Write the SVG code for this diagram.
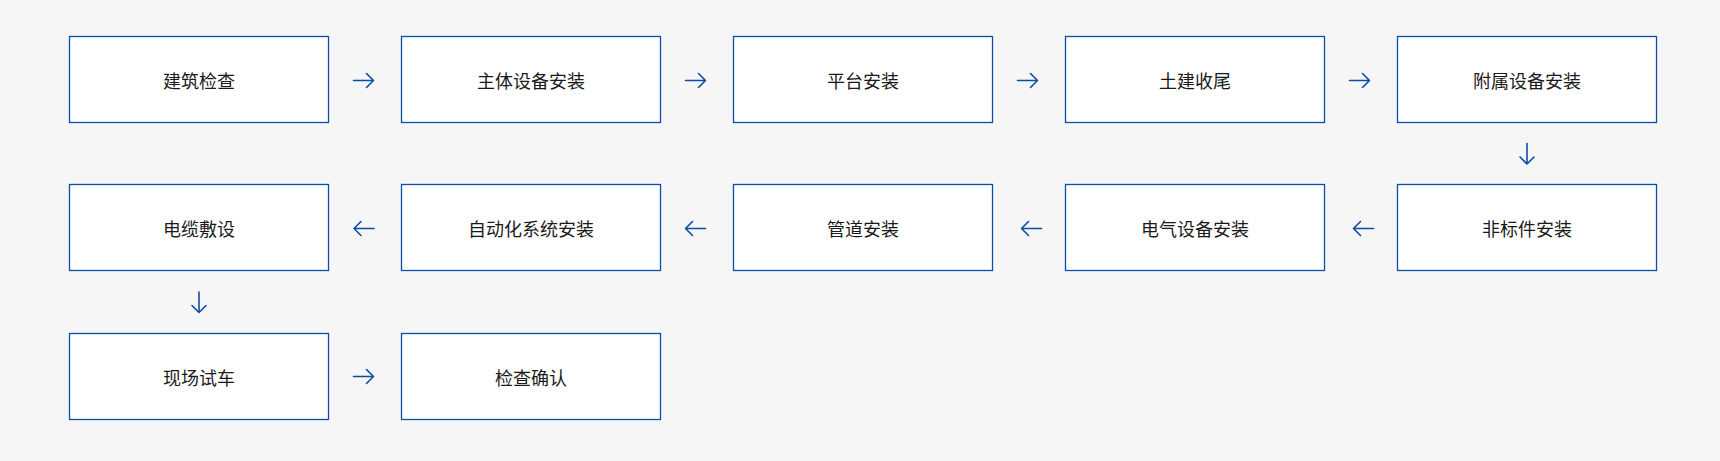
<svg xmlns="http://www.w3.org/2000/svg" width="1720" height="461" viewBox="0 0 1720 461">
<style>
.bg{fill:#f6f6f6}
.box{fill:#ffffff;stroke:#0a4ea5;stroke-width:1.3}
.lbl{font-family:"Noto Sans CJK SC","Noto Sans",sans-serif;font-size:18px;fill:#1a1a1a;text-anchor:middle;dominant-baseline:central}
.arr{fill:none;stroke:#0a4ea5;stroke-width:1.6;stroke-linecap:round;stroke-linejoin:round}
</style>
<rect class="bg" x="0" y="0" width="1720" height="461"/>
<g id="n1"><rect class="box" x="69.5" y="36.5" width="259" height="86"/><text class="lbl" x="199" y="79.5">建筑检查</text></g>
<g id="n2"><rect class="box" x="401.5" y="36.5" width="259" height="86"/><text class="lbl" x="531" y="79.5">主体设备安装</text></g>
<g id="n3"><rect class="box" x="733.5" y="36.5" width="259" height="86"/><text class="lbl" x="863" y="79.5">平台安装</text></g>
<g id="n4"><rect class="box" x="1065.5" y="36.5" width="259" height="86"/><text class="lbl" x="1195" y="79.5">土建收尾</text></g>
<g id="n5"><rect class="box" x="1397.5" y="36.5" width="259" height="86"/><text class="lbl" x="1527" y="79.5">附属设备安装</text></g>
<g id="n6"><rect class="box" x="1397.5" y="184.5" width="259" height="86"/><text class="lbl" x="1527" y="227.5">非标件安装</text></g>
<g id="n7"><rect class="box" x="1065.5" y="184.5" width="259" height="86"/><text class="lbl" x="1195" y="227.5">电气设备安装</text></g>
<g id="n8"><rect class="box" x="733.5" y="184.5" width="259" height="86"/><text class="lbl" x="863" y="227.5">管道安装</text></g>
<g id="n9"><rect class="box" x="401.5" y="184.5" width="259" height="86"/><text class="lbl" x="531" y="227.5">自动化系统安装</text></g>
<g id="n10"><rect class="box" x="69.5" y="184.5" width="259" height="86"/><text class="lbl" x="199" y="227.5">电缆敷设</text></g>
<g id="n11"><rect class="box" x="69.5" y="333.5" width="259" height="86"/><text class="lbl" x="199" y="376.5">现场试车</text></g>
<g id="n12"><rect class="box" x="401.5" y="333.5" width="259" height="86"/><text class="lbl" x="531" y="376.5">检查确认</text></g>
<g id="connectors">
<path class="arr" d="M353.5 80.5H373.5M366.5 73.5L373.5 80.5L366.5 87.5"/>
<path class="arr" d="M685.5 80.5H705.5M698.5 73.5L705.5 80.5L698.5 87.5"/>
<path class="arr" d="M1017.5 80.5H1037.5M1030.5 73.5L1037.5 80.5L1030.5 87.5"/>
<path class="arr" d="M1349.5 80.5H1369.5M1362.5 73.5L1369.5 80.5L1362.5 87.5"/>
<path class="arr" d="M1527 143.5V164M1520 157L1527 164L1534 157"/>
<path class="arr" d="M1373.5 228.5H1353.5M1360.5 221.5L1353.5 228.5L1360.5 235.5"/>
<path class="arr" d="M1041.5 228.5H1021.5M1028.5 221.5L1021.5 228.5L1028.5 235.5"/>
<path class="arr" d="M705.5 228.5H685.5M692.5 221.5L685.5 228.5L692.5 235.5"/>
<path class="arr" d="M374 228.5H354M361 221.5L354 228.5L361 235.5"/>
<path class="arr" d="M199 292V312.5M192 305.5L199 312.5L206 305.5"/>
<path class="arr" d="M353.5 376.5H373.5M366.5 369.5L373.5 376.5L366.5 383.5"/>
</g>
</svg>
